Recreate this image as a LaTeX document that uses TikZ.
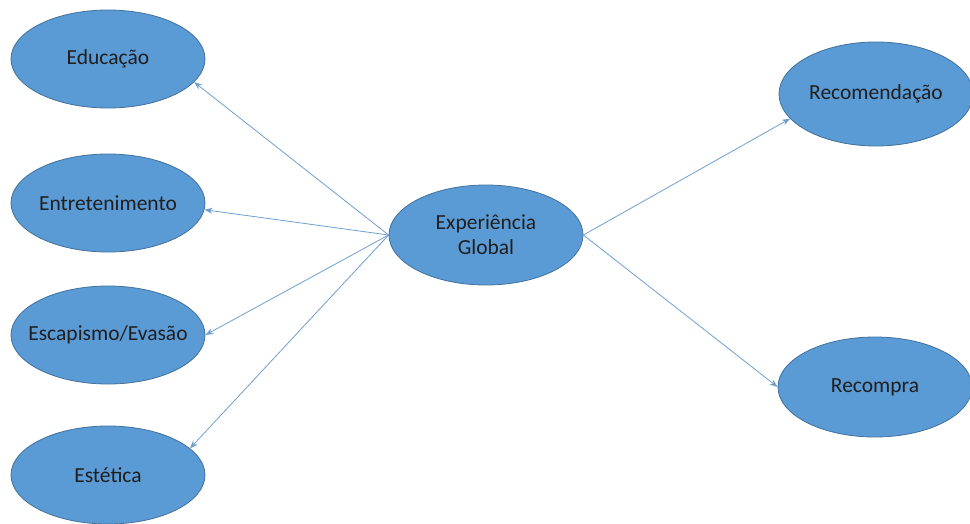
\documentclass[tikz,border=0pt]{standalone}
\usepackage{fontspec}
\setmainfont{Carlito}
\usetikzlibrary{shapes.geometric,arrows.meta}
\definecolor{fillblue}{HTML}{5B9BD5}
\definecolor{edgeblue}{HTML}{41719C}
\definecolor{linkblue}{HTML}{6F9FCF}
\tikzset{
  oval/.style={ellipse, draw=edgeblue, line width=0.8pt, fill=fillblue,
    minimum width=194pt, minimum height=98pt, inner xsep=-40pt, inner ysep=0pt,
    font=\fontsize{21.5}{25}\selectfont, text=black!88, align=center},
  link/.style={draw=linkblue, line width=0.8pt, -{Stealth[length=8pt,width=6pt]}}
}
\begin{document}
\begin{tikzpicture}[x=1pt,y=-1pt]
\useasboundingbox (0,0) rectangle (970,523);
\node[oval] (edu) at (108,59) {Educação};
\node[oval] (ent) at (108,203) {Entretenimento};
\node[oval] (esc) at (108,335) {Escapismo/Evasão};
\node[oval] (est) at (108,475) {Estética};
\node[oval, minimum height=100pt] (glob) at (486,235) {Experiência\\Global};
\node[oval, minimum height=104pt] (rec) at (876,94) {Recomendação};
\node[oval, minimum height=100pt] (recp) at (875,387) {Recompra};
\draw[link] (glob.west) -- (edu.-15);
\draw[link] (glob.west) -- (ent.-4);
\draw[link] (glob.west) -- (esc.0);
\draw[link] (glob.west) -- (est.18);
\draw[link] (glob.east) -- (rec.-164);
\draw[link] (glob.east) -- (recp.180);
\end{tikzpicture}
\end{document}
